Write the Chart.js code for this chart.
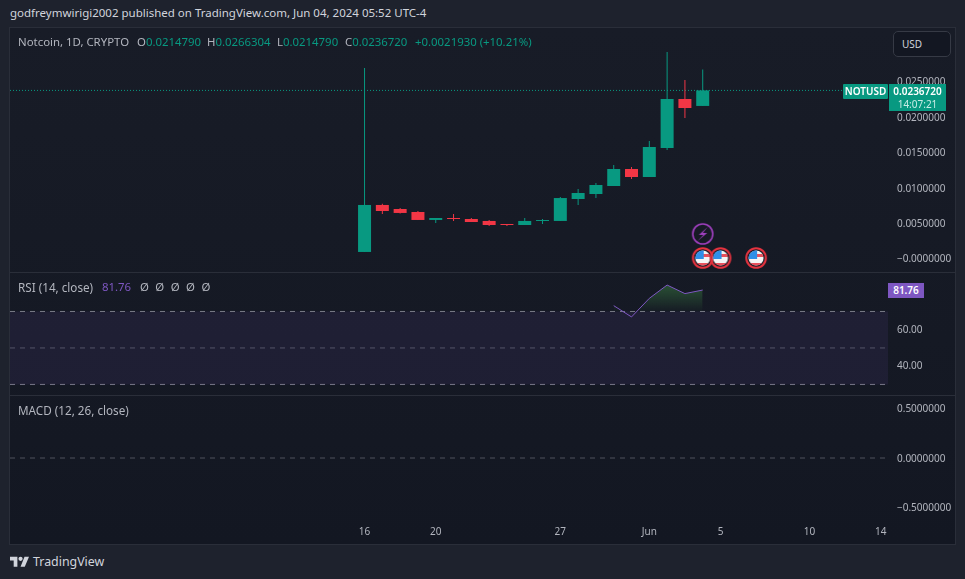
<!DOCTYPE html>
<html>
<head>
<meta charset="utf-8">
<script src="https://cdn.jsdelivr.net/npm/chart.js@4"></script>
<style>
  html, body { margin: 0; padding: 0; background: #1e222d; }
  #page { position: relative; width: 965px; height: 579px; overflow: hidden; background: #1e222d;
          font-family: "Noto Sans", sans-serif; font-size: 11.4px; color: #b2b5be; }
  #frame { position: absolute; left: 9px; top: 27px; width: 945px; height: 516px; border: 1px solid #2a2e39;
           background: linear-gradient(#181c27, #131722); }
  canvas { position: absolute; left: 10px; }
  .sep { position: absolute; left: 10px; width: 945px; height: 1px; background: #2a2e39; }
  .t { position: absolute; white-space: nowrap; line-height: 14px; }
  .g { color: #089981; }
  .tag { position: absolute; color: #fff; font-weight: 600; font-size: 10px; text-align: center; }
</style>
</head>
<body>
<div id="page">
  <div class="t" style="left:10px;top:6px;color:#d1d4dc;font-size:11.5px">godfreymwirigi2002 published on TradingView.com, Jun 04, 2024 05:52 UTC-4</div>
  <div id="frame"></div>
  <canvas id="priceChart" width="945" height="244" style="top:28px"></canvas>
  <canvas id="rsiChart" width="945" height="122" style="top:273px"></canvas>
  <canvas id="macdChart" width="945" height="147" style="top:396px"></canvas>
  <div class="sep" style="top:272px"></div>
  <div class="sep" style="top:395px"></div>

  <div class="t" style="left:18px;top:35px">Notcoin, 1D, CRYPTO</div>
  <div class="t" style="left:137px;top:35px">O<span class="g">0.0214790</span></div>
  <div class="t" style="left:207px;top:35px">H<span class="g">0.0266304</span></div>
  <div class="t" style="left:277px;top:35px">L<span class="g">0.0214790</span></div>
  <div class="t" style="left:345px;top:35px">C<span class="g">0.0236720</span></div>
  <div class="t g" style="left:415px;top:35px">+0.0021930 (+10.21%)</div>

  <div class="t" style="left:18px;top:280px;font-size:11.7px">RSI (14, close)</div>
  <div class="t" style="left:102px;top:280px;color:#7e57c2">81.76</div>
  <div class="t" style="left:140px;top:280px;word-spacing:3.5px">Ø Ø Ø Ø Ø</div>
  <div class="t" style="left:18px;top:403px;font-size:11.7px">MACD (12, 26, close)</div>

  <div class="t" style="left:893px;top:31px;width:56px;height:24px;border:1px solid #363a45;border-radius:5px;background:#131722;color:#d1d4dc;font-size:10px;line-height:24px;text-indent:8px">USD</div>
  <div class="tag" style="left:843px;top:84px;width:45px;height:15px;line-height:15px;background:#089981;border-radius:1px">NOTUSD</div>
  <div class="tag" style="left:889px;top:84px;width:57px;height:27px;background:#089981;line-height:13px;padding-top:1px;box-sizing:border-box">0.0236720<br><span style="font-weight:400;color:#c8ece5">14:07:21</span></div>
  <div class="tag" style="left:888px;top:283px;width:36px;height:15px;line-height:15px;background:#7e57c2">81.76</div>

  <svg style="position:absolute;left:10px;top:556px" width="19" height="11" viewBox="0 0 36 20">
    <path fill="#d1d4dc" d="M14 20H7V8H0V1h14v19zM28 20h-8l7.5-19H36l-8 19z"/><circle cx="20" cy="5" r="4" fill="#d1d4dc"/>
  </svg>
  <div class="t" style="left:33px;top:555px;color:#d1d4dc;font-size:12.4px">TradingView</div>
</div>

<script>
// Candles, day number counted from May 16
const candleDays = [0, 1, 2, 3, 4, 5, 6, 7, 8, 9, 10, 11, 12, 13, 14, 15, 16, 17, 18, 19];
const openPrices = [0.00085, 0.00749, 0.00692, 0.0065, 0.00537, 0.00565, 0.00551, 0.00523, 0.0048, 0.00466, 0.00523, 0.00523, 0.00833, 0.00904, 0.01017, 0.01257, 0.01144, 0.01554, 0.02246, 0.021479];
const highPrices = [0.02684, 0.00767, 0.00706, 0.00664, 0.00565, 0.00621, 0.00565, 0.00537, 0.0048, 0.00565, 0.00551, 0.00862, 0.00975, 0.01059, 0.01314, 0.01285, 0.01653, 0.0291, 0.02514, 0.0266304];
const lowPrices = [0.00085, 0.00621, 0.00629, 0.00537, 0.00494, 0.00523, 0.00508, 0.00452, 0.00452, 0.00466, 0.0048, 0.00523, 0.00749, 0.00847, 0.01017, 0.01116, 0.01144, 0.01525, 0.01977, 0.021479];
const closePrices = [0.00749, 0.00664, 0.00636, 0.00537, 0.00565, 0.00551, 0.00508, 0.00466, 0.00466, 0.00523, 0.00537, 0.00847, 0.00918, 0.01031, 0.01257, 0.01144, 0.01568, 0.02246, 0.02119, 0.023672];

// RSI
const rsiDays = [14, 15, 16, 17, 18, 19];
const rsiValues = [73.2, 67, 77.2, 84.5, 79.8, 81.76];

// Events
const flagDays = [19, 20, 22];
const boltDays = [19];

// Axis labels
const timeTickDays = [0, 4, 11, 16, 20, 25, 29];
const timeTickLabels = ['16', '20', '27', 'Jun', '5', '10', '14'];
const priceTicks = [0, 0.005, 0.01, 0.015, 0.02, 0.025];
const priceTickLabels = ['−0.0000000', '0.0050000', '0.0100000', '0.0150000', '0.0200000', '0.0250000'];
const rsiTicks = [40, 60];
const rsiTickLabels = ['40.00', '60.00'];
const macdTicks = [-0.5, 0, 0.5];
const macdTickLabels = ['−0.5000000', '0.0000000', '0.5000000'];

const UP = '#089981';
const DOWN = '#f23645';
const DAY_MIN = -19.92;
const DAY_MAX = 29.41;

Chart.defaults.font.family = '"Noto Sans", sans-serif';
Chart.defaults.font.size = 10;
Chart.defaults.color = '#b2b5be';
Chart.defaults.animation = false;

const candleColors = openPrices.map((o, i) => closePrices[i] >= o ? UP : DOWN);

function xAxis(showTicks) {
  return {
    type: 'linear',
    min: DAY_MIN,
    max: DAY_MAX,
    offset: false,
    display: showTicks,
    grid: { display: false, drawTicks: false, offset: false },
    border: { display: false },
    afterBuildTicks: s => { s.ticks = timeTickDays.map(v => ({ value: v })); },
    afterFit: s => {
      s.height = showTicks ? 21 : 0;
      s.paddingLeft = 0;
      s.paddingRight = 0;
    },
    ticks: {
      autoSkip: false,
      maxRotation: 0,
      padding: 4,
      callback: v => timeTickLabels[timeTickDays.indexOf(v)]
    }
  };
}

function yAxis(min, max, values, labels, labelOffset) {
  return {
    position: 'right',
    min: min,
    max: max,
    grid: { display: false, drawTicks: false },
    border: { display: false },
    afterBuildTicks: s => { s.ticks = values.map(v => ({ value: v })); },
    afterFit: s => {
      s.width = 67;
      s.paddingTop = 0;
      s.paddingBottom = 0;
    },
    ticks: {
      autoSkip: false,
      padding: 9,
      labelOffset: labelOffset,
      callback: v => labels[values.indexOf(v)]
    }
  };
}

const baseOptions = {
  responsive: false,
  layout: { padding: 0, autoPadding: false },
  plugins: { legend: { display: false }, tooltip: { enabled: false } }
};

// Icons used as point styles
function icon(draw) {
  const c = document.createElement('canvas');
  c.width = 24;
  c.height = 24;
  draw(c.getContext('2d'));
  return c;
}

const flagIcon = icon(g => {
  g.save();
  g.beginPath();
  g.arc(12, 12, 7.5, 0, Math.PI * 2);
  g.clip();
  g.fillStyle = '#f5f5f5';
  g.fillRect(0, 0, 24, 24);
  g.fillStyle = '#e8505c';
  g.fillRect(12, 8, 12, 3);
  g.fillRect(0, 17, 24, 3);
  g.fillStyle = '#2f8fe8';
  g.fillRect(0, 0, 13, 13);
  g.restore();
  g.beginPath();
  g.arc(12, 12, 9.8, 0, Math.PI * 2);
  g.strokeStyle = '#e5333f';
  g.lineWidth = 2;
  g.stroke();
});

const boltIcon = icon(g => {
  g.beginPath();
  g.arc(12, 12, 10, 0, Math.PI * 2);
  g.strokeStyle = '#a040c0';
  g.lineWidth = 1.6;
  g.stroke();
  g.beginPath();
  g.moveTo(17, 5);
  g.lineTo(8, 13);
  g.lineTo(12.5, 13);
  g.lineTo(7, 19);
  g.lineTo(16.5, 11);
  g.lineTo(12, 11);
  g.closePath();
  g.fillStyle = '#a040c0';
  g.fill();
});

new Chart(document.getElementById('priceChart'), {
  type: 'bar',
  data: {
    datasets: [
      {
        type: 'scatter',
        data: flagDays.map(d => ({ x: d, y: 0 })),
        pointStyle: flagIcon,
        clip: false
      },
      {
        type: 'scatter',
        data: boltDays.map(d => ({ x: d, y: 0.0034 })),
        pointStyle: boltIcon,
        clip: false
      },
      {
        data: candleDays.map((d, i) => ({ x: d, y: [openPrices[i], closePrices[i]] })),
        backgroundColor: candleColors,
        barThickness: 13,
        grouped: false,
        borderSkipped: false,
        borderWidth: 0,
        inflateAmount: 0
      },
      {
        data: candleDays.map((d, i) => ({ x: d, y: [lowPrices[i], highPrices[i]] })),
        backgroundColor: candleColors,
        barThickness: 1,
        grouped: false,
        borderSkipped: false,
        borderWidth: 0,
        inflateAmount: 0
      },
      {
        type: 'line',
        data: [{ x: DAY_MIN, y: closePrices[19] }, { x: DAY_MAX, y: closePrices[19] }],
        borderColor: UP,
        borderWidth: 1,
        borderDash: [1, 2],
        pointRadius: 0
      }
    ]
  },
  options: {
    ...baseOptions,
    scales: {
      x: xAxis(false),
      y: yAxis(-0.00198, 0.03249, priceTicks, priceTickLabels, 1.5)
    }
  }
});

const rsiCanvas = document.getElementById('rsiChart');
const rsiFill = rsiCanvas.getContext('2d').createLinearGradient(0, 10, 0, 38);
rsiFill.addColorStop(0, 'rgba(76,175,80,0.4)');
rsiFill.addColorStop(1, 'rgba(76,175,80,0.02)');

function rsiLevel(level, color, extra) {
  return {
    type: 'line',
    data: [{ x: DAY_MIN, y: level }, { x: DAY_MAX, y: level }],
    borderColor: color,
    borderWidth: 1,
    borderDash: [5, 5],
    pointRadius: 0,
    ...extra
  };
}

new Chart(rsiCanvas, {
  type: 'line',
  data: {
    datasets: [
      {
        data: rsiDays.map((d, i) => ({ x: d, y: rsiValues[i] })),
        borderColor: '#7e57c2',
        borderWidth: 1,
        pointRadius: 0,
        fill: { target: { value: 70 }, above: rsiFill, below: 'rgba(0,0,0,0)' }
      },
      rsiLevel(70, '#787b86', { fill: '+1', backgroundColor: 'rgba(126,87,194,0.1)' }),
      rsiLevel(30, '#787b86'),
      rsiLevel(50, 'rgba(120,123,134,0.6)')
    ]
  },
  options: {
    ...baseOptions,
    scales: {
      x: xAxis(false),
      y: yAxis(24.2, 91.1, rsiTicks, rsiTickLabels, 0)
    }
  }
});

new Chart(document.getElementById('macdChart'), {
  type: 'line',
  data: {
    datasets: [
      {
        data: [{ x: DAY_MIN, y: 0 }, { x: DAY_MAX, y: 0 }],
        borderColor: 'rgba(120,123,134,0.6)',
        borderWidth: 1,
        borderDash: [5, 5],
        pointRadius: 0
      }
    ]
  },
  options: {
    ...baseOptions,
    scales: {
      x: xAxis(true),
      y: yAxis(-0.646, 0.626, macdTicks, macdTickLabels, 1)
    }
  }
});
</script>
</body>
</html>
